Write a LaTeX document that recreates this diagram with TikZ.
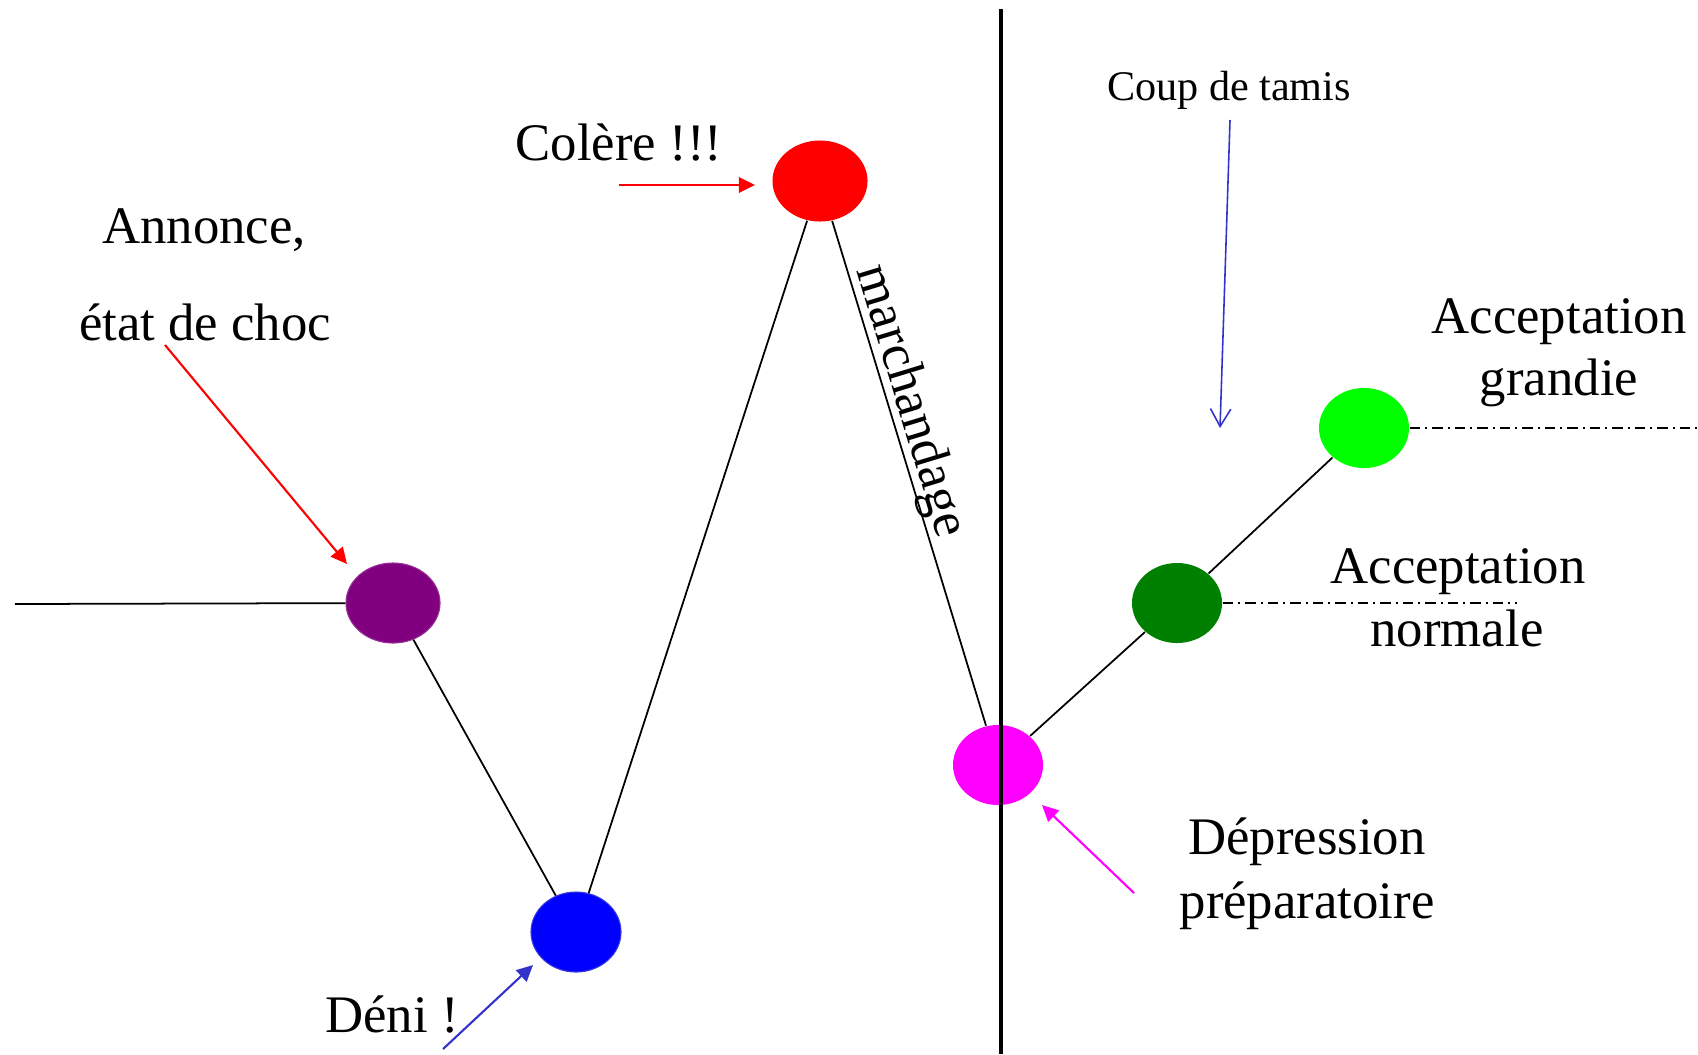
\documentclass[tikz,border=0pt]{standalone}
\usepackage{fontspec}
\setmainfont{Liberation Serif}
\usetikzlibrary{shapes.geometric,arrows.meta}
\definecolor{cpurple}{RGB}{128,0,128}
\definecolor{cpurpleb}{RGB}{150,50,150}
\definecolor{cblueb}{RGB}{60,60,220}
\definecolor{cdarkg}{RGB}{0,128,0}
\definecolor{clightg}{RGB}{0,255,0}
\definecolor{carrowb}{RGB}{51,51,204}
\definecolor{cmag}{RGB}{255,0,255}
\definecolor{cred}{RGB}{255,0,0}
\definecolor{cblue}{RGB}{0,0,255}
\begin{document}
\begin{tikzpicture}[x=0.01cm,y=-0.01cm,
  stage/.style={ellipse,inner sep=0pt,minimum width=0.9cm,minimum height=0.8cm},
  lbl/.style={anchor=base,inner sep=0pt,font=\fontsize{15}{18}\selectfont},
  smalllbl/.style={anchor=base,inner sep=0pt,font=\fontsize{12}{14}\selectfont},
  link/.style={line width=0.5pt,black},
  pointer/.style={line width=0.6pt,-{Triangle[length=4.6pt,width=4.4pt]}},
  level/.style={line width=0.35pt,dash pattern=on 3pt off 1.4pt on 0.6pt off 1.4pt}
]
\useasboundingbox (0,0) rectangle (1698,1054);

% stages
\node[stage,fill=cpurple,draw=cpurpleb,line width=0.3pt,minimum width=0.94cm] (choc) at (393,603) {};
\node[stage,fill=cblue,draw=cblueb,line width=0.3pt] (deni) at (576,932) {};
\node[stage,fill=cred,minimum width=0.95cm,minimum height=0.81cm] (colere) at (820,181) {};
\node[stage,fill=cmag] (depr) at (998,765) {};
\node[stage,fill=cdarkg] (accn) at (1177,603) {};
\node[stage,fill=clightg] (accg) at (1364,428) {};

% free ends
\coordinate (start) at (15,604);
\coordinate (vtop) at (1001,9);
\coordinate (vbot) at (1001,1054);
\coordinate (gEnd) at (1698,428);
\coordinate (nEnd) at (1517,603);
\coordinate (a1s) at (165,345);
\coordinate (a1e) at (347,564);
\coordinate (a2s) at (619,185);
\coordinate (a2e) at (755,185);
\coordinate (a3s) at (443,1049);
\coordinate (a3e) at (533,965);
\coordinate (a4s) at (1134,893);
\coordinate (a4e) at (1042,805);
\coordinate (a5s) at (1230,120);
\coordinate (a5e) at (1220,428);

% curve
\draw[link] (start) -- (choc);
\draw[link] (choc) -- (deni);
\draw[link] (deni) -- (colere);
\draw[link] (colere) -- node[pos=0.37,sloped,above=-1pt,inner sep=0pt,font=\fontsize{15}{18}\selectfont] {marchandage} (depr);
\draw[link] (depr) -- (accn);
\draw[link] (accn) -- (accg);

% levels
\draw[level] (accg.east) -- (gEnd);
\draw[level] (accn.east) -- (nEnd);

% vertical separator
\draw[line width=1.35pt] (vtop) -- (vbot);

% pointers
\draw[pointer,cred] (a1s) -- (a1e);
\draw[pointer,cred] (a2s) -- (a2e);
\draw[pointer,carrowb] (a3s) -- (a3e);
\draw[pointer,cmag] (a4s) -- (a4e);
\draw[line width=0.45pt,carrowb,-{Straight Barb[length=5pt,width=5.8pt]}] (a5s) -- (a5e);

% labels
\node[lbl] (t1) at (204,243) {Annonce,};
\node[lbl] (t2) at (205,340) {état de choc};
\node[lbl] (t3) at (619,160) {Colère !!!};
\node[lbl] (t4) at (392,1032) {Déni !};
\node[smalllbl] (t5) at (1229,100) {Coup de tamis};
\node[lbl] (t6) at (1559,333) {Acceptation};
\node[lbl] (t7) at (1559,395) {grandie};
\node[lbl] (t8) at (1458,583) {Acceptation};
\node[lbl] (t9) at (1457,646) {normale};
\node[lbl] (t10) at (1307,854) {Dépression};
\node[lbl] (t11) at (1307,918) {préparatoire};
\end{tikzpicture}
\end{document}
